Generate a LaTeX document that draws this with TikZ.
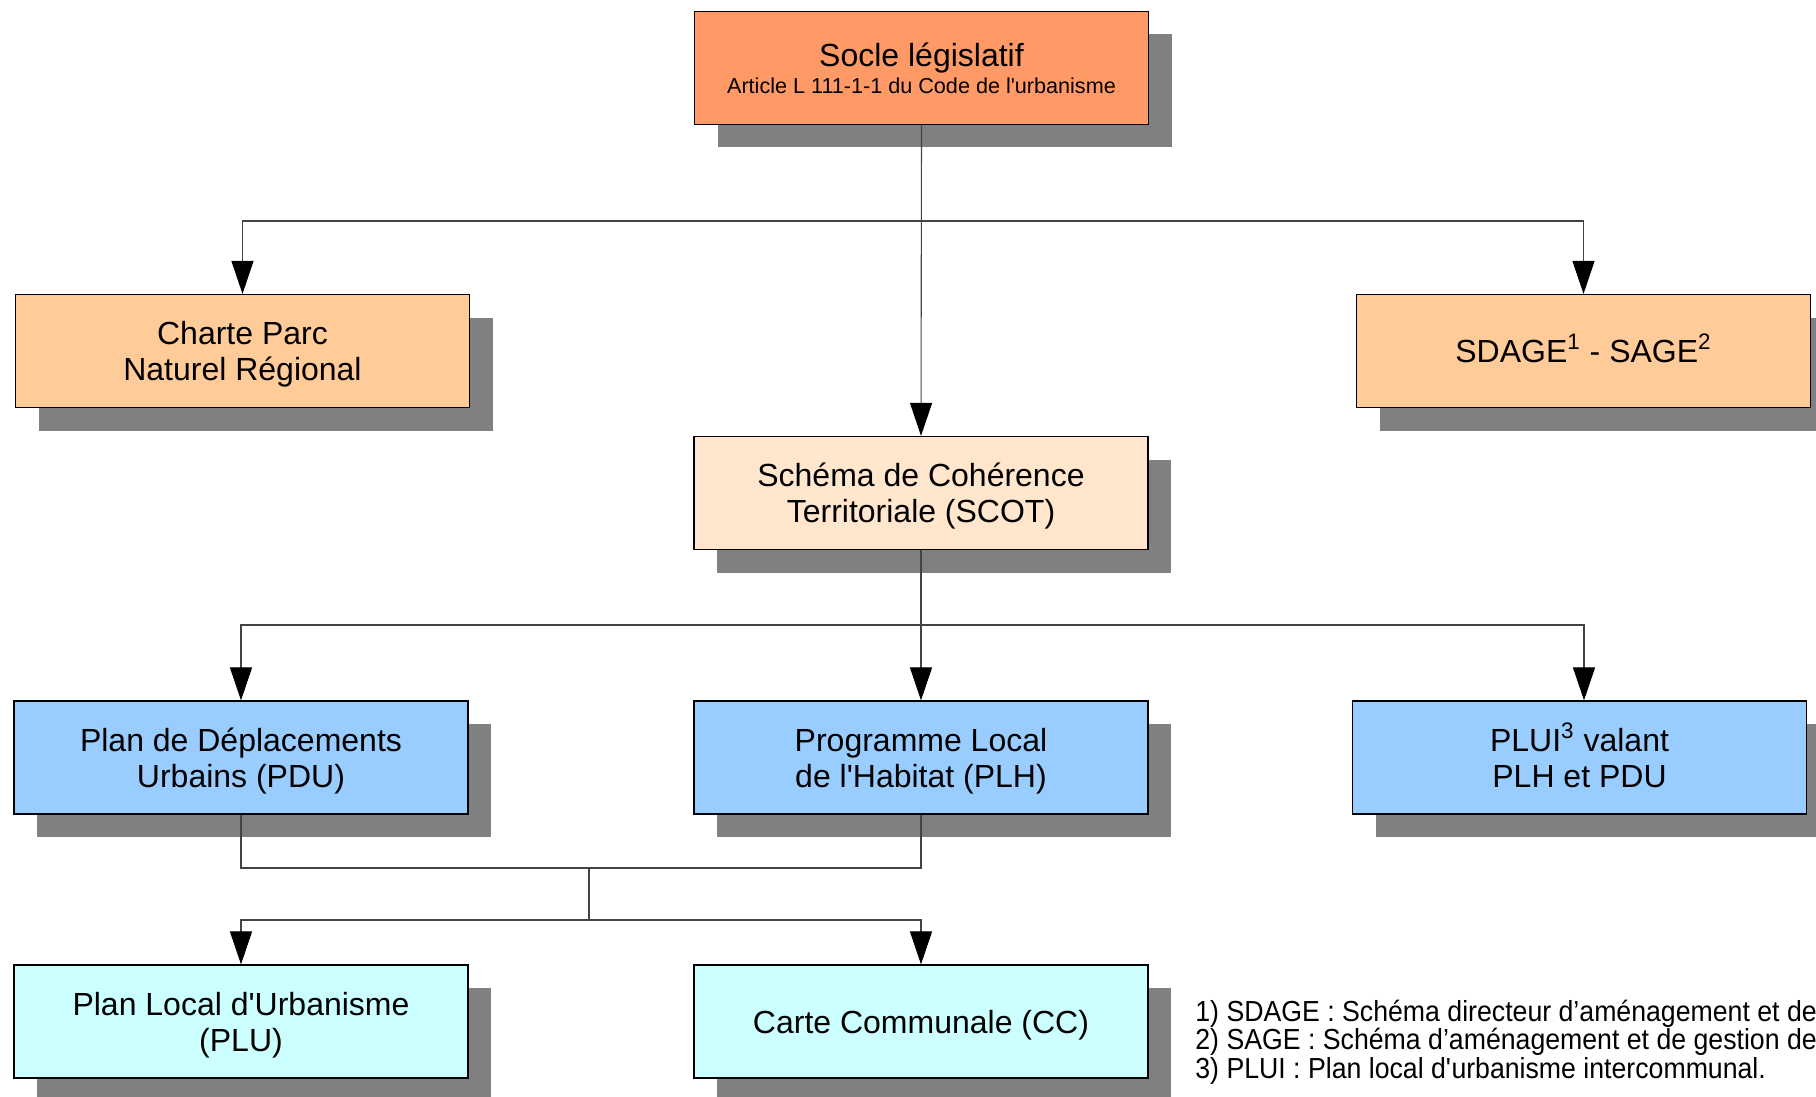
\documentclass[tikz,border=0pt]{standalone}
\usepackage{fontspec}
\setmainfont{Liberation Sans}
\newfontfamily\notefont{Liberation Sans}[FakeStretch=0.92]
\usetikzlibrary{arrows.meta,shadows}

\definecolor{cSocle}{HTML}{FF9966}
\definecolor{cCadre}{HTML}{FFCC99}
\definecolor{cScot}{HTML}{FFE6CC}
\definecolor{cPlan}{HTML}{99CCFF}
\definecolor{cLocal}{HTML}{CCFFFF}
\definecolor{cOmbre}{HTML}{808080}
\definecolor{cLien}{HTML}{444444}

% superscript that does not change the line height
\newcommand\expo[1]{\smash{\textsuperscript{#1}}}

\tikzset{
  docbox/.style={draw=black, line width=0.6pt, rectangle,
    minimum width=227pt, minimum height=56.5pt, inner sep=0pt,
    align=center, font=\fontsize{16}{18}\selectfont, text depth=0pt,
    drop shadow={shadow xshift=11.5pt, shadow yshift=-11.5pt,
      fill=cOmbre, opacity=1}},
  lien/.style={draw=cLien, line width=0.55pt},
  fleche/.style={lien, -{Triangle[width=11pt,length=16.5pt,color=black]}},
  note/.style={anchor=base west, inner sep=0pt,
    font=\notefont\fontsize{14.5}{14.5}\selectfont}
}

\begin{document}
\begin{tikzpicture}[x=0.5pt, y=-0.5pt]
  \useasboundingbox (0,0) rectangle (1816,1097);
  \clip (0,0) rectangle (1816,1097);

  % boxes
  \node[docbox, fill=cSocle, text depth=-4pt] (socle) at (921.5,68)
    {Socle législatif\\[-4.5pt]{\fontsize{10.8}{13}\selectfont Article L 111-1-1 du Code de l\textquotesingle urbanisme}};
  \node[docbox, fill=cCadre] (charte) at (242.5,351) {Charte Parc\\Naturel Régional};
  \node[docbox, fill=cCadre] (sdage) at (1583.5,351)
    {SDAGE\expo{1} - SAGE\expo{2}};
  \node[docbox, fill=cScot] (scot) at (921,493) {Schéma de Cohérence\\Territoriale (SCOT)};
  \node[docbox, fill=cPlan] (pdu) at (241,757.5) {Plan de Déplacements\\Urbains (PDU)};
  \node[docbox, fill=cPlan] (plh) at (921,757.5) {Programme Local\\de l\textquotesingle Habitat (PLH)};
  \node[docbox, fill=cPlan, text depth=-3.4pt] (plui) at (1579.5,757.5) {PLUI\expo{3} valant\\PLH et PDU};
  \node[docbox, fill=cLocal] (plu) at (241,1021.5) {Plan Local d\textquotesingle Urbanisme\\(PLU)};
  \node[docbox, fill=cLocal] (cc) at (921,1021.5) {Carte Communale (CC)};

  % branching points
  \coordinate (t1) at (921,221);
  \coordinate (s1) at (921,625);
  \coordinate (m1) at (589,868);
  \coordinate (m2) at (589,920);

  % connectors
  \draw[fleche] (socle.south) -- (scot.north);
  \draw[fleche] (t1) -| (charte.north);
  \draw[fleche] (t1) -| (sdage.north);

  \draw[fleche] (scot.south) -- (plh.north);
  \draw[fleche] (s1) -| (pdu.north);
  \draw[fleche] (s1) -| ([xshift=2.25pt]plui.north);

  \draw[lien] (pdu.south) |- (m1) -| (plh.south);
  \draw[lien] (m1) -- (m2);
  \draw[fleche] (m2) -| (plu.north);
  \draw[fleche] (m2) -| (cc.north);

  % footnotes
  \node[note] (fn1) at (1195,1021) {1) SDAGE : Schéma directeur d’aménagement et de};
  \node[note] (fn2) at (1195,1049) {2) SAGE : Schéma d’aménagement et de gestion des};
  \node[note] (fn3) at (1195,1078) {3) PLUI : Plan local d\textquotesingle urbanisme intercommunal.};
\end{tikzpicture}
\end{document}
